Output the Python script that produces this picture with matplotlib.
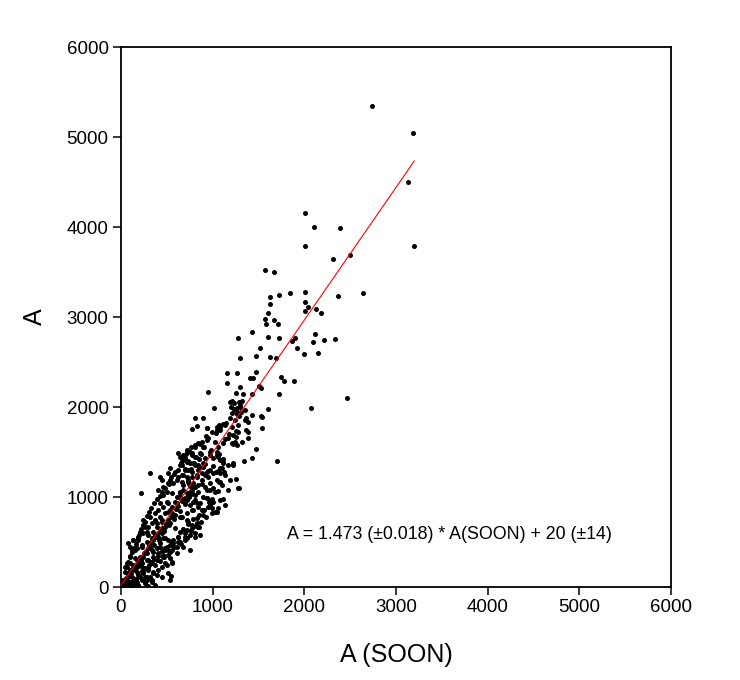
import matplotlib
matplotlib.use("Agg")
import matplotlib.pyplot as plt

plt.rcParams["font.family"] = ["Liberation Sans", "DejaVu Sans"]

# sparse upper points (A(SOON), A)
upper_pts = [
    (2735, 5341), (3189, 5048), (3134, 4503), (2011, 4152), (2105, 4000), (2389, 3993),
    (2011, 3785), (3200, 3785), (2316, 3648), (2498, 3693), (1844, 3263), (2011, 3278),
    (2007, 3170), (2036, 3115), (2004, 3067), (2124, 3089), (2185, 3041), (2371, 3237),
    (2637, 3267), (2113, 2815), (2095, 2722), (2218, 2741), (2331, 2756), (1898, 2770),
    (1862, 2737), (1917, 2656), (2000, 2589), (2145, 2600), (1887, 2285), (2462, 2103),
    (2069, 1985), (1567, 3522), (1669, 3500), (1629, 3219), (1720, 3248), (1622, 3148),
    (1607, 3041), (1571, 2978), (1585, 2926), (1669, 2967), (1716, 2919), (1433, 2833),
    (1280, 2763), (1600, 2778), (1720, 2767), (1520, 2656), (1295, 2541), (1469, 2567),
    (1625, 2552), (1694, 2541), (1265, 2381), (1476, 2389), (1404, 2326), (1443, 2322),
    (1742, 2337), (1782, 2292), (1295, 2222), (1502, 2233), (1531, 2211),
]

# middle band
mid_pts = [
    (1160, 2378), (1153, 2270), (953, 2167), (1255, 2159), (1331, 2141), (1433, 2144),
    (1727, 2144), (1211, 2067), (1236, 2041), (1291, 2052), (1324, 2070), (1200, 2004),
    (1229, 1981), (1262, 1989), (1302, 2022), (1349, 1963), (1604, 1978), (1011, 1985),
    (1269, 1926), (1313, 1948), (1291, 1896), (1360, 1874), (1382, 1830), (1527, 1896),
    (811, 1881), (898, 1881), (1185, 1874), (1069, 1804), (1116, 1815), (1145, 1822),
    (778, 1756), (825, 1785), (935, 1770), (1047, 1781), (1207, 1781), (1255, 1733),
    (1367, 1744), (1389, 1722), (927, 1678), (1033, 1707), (1080, 1744), (1175, 1696),
    (1255, 1670), (938, 1633), (1029, 1615), (1135, 1648), (1215, 1604), (1244, 1615),
    (1225, 1585), (807, 1559), (865, 1589), (905, 1552), (982, 1522), (1473, 1530),
    (705, 1478), (775, 1485), (815, 1448), (847, 1426), (869, 1478), (1073, 1481),
    (1116, 1426), (1433, 1437), (1702, 1404), (644, 1448), (662, 1404), (735, 1404),
    (793, 1374), (920, 1367), (1004, 1348), (1102, 1326), (1218, 1374), (702, 1307),
    (767, 1311), (851, 1326), (949, 1289), (1055, 1289), (673, 1248), (720, 1219),
    (778, 1226), (913, 1248), (1251, 1196), (738, 1144), (804, 1115), (884, 1141),
    (1000, 1100), (1284, 1096), (1080, 1170), (1189, 2059), (1261, 1948), (1298, 2003),
    (1207, 1929), (1243, 1855), (1280, 1800), (1134, 1800), (1080, 1781), (1043, 1744),
    (989, 1726), (934, 1763), (952, 1652), (1061, 1559), (1116, 1596), (1171, 1652),
    (1225, 1689), (1280, 1726), (1352, 1855), (1389, 1652), (1425, 1911), (1534, 1892),
    (1261, 1577), (1043, 1503), (1316, 1615), (1534, 1763), (1342, 1403), (1109, 974),
    (1062, 1070), (1007, 948), (1026, 837), (989, 874), (935, 985), (1124, 1281),
    (1080, 1411), (1036, 1281), (898, 1337), (316, 1263), (215, 1041), (545, 122),
    (851, 670), (971, 911), (1044, 837), (993, 974), (1116, 1374), (1225, 1356),
    (1280, 1104), (1080, 1263), (1065, 1170),
]

# dense lower cluster
cluster_pts = [
    (625, 1485), (680, 1466), (753, 1503), (807, 1448), (862, 1485), (916, 1429),
    (971, 1466), (716, 1392), (789, 1374), (844, 1355), (898, 1374), (644, 1355),
    (698, 1300), (771, 1281), (825, 1244), (880, 1263), (625, 1226), (662, 1170),
    (734, 1189), (789, 1152), (844, 1133), (680, 1078), (753, 1059), (807, 1022),
    (644, 1004), (716, 966), (607, 929), (1062, 1448), (1116, 1392), (1171, 1355),
    (1080, 1318), (1007, 1263), (1134, 1244), (1044, 1189), (971, 1152), (1098, 1133),
    (934, 1078), (1025, 1059), (1171, 1078), (898, 1004), (989, 966), (1080, 966),
    (862, 929), (953, 892), (1134, 911), (1062, 874), (1189, 1189),
    (498, 1059), (553, 1041), (607, 1004), (644, 1059), (589, 948), (517, 930),
    (462, 893), (407, 856), (480, 819), (535, 856), (426, 782), (371, 745),
    (335, 708), (298, 671), (389, 671), (444, 726), (717, 1004), (771, 1041),
    (807, 967), (753, 911), (844, 893), (789, 856), (717, 819), (662, 782),
    (735, 726), (826, 708), (771, 652), (698, 597), (626, 559), (571, 522),
    (644, 504), (717, 541), (535, 467), (480, 430), (607, 448), (844, 671),
    (807, 597), (862, 578),
    (807, 1578), (843, 1596), (898, 1559), (880, 1615), (971, 1503), (1007, 1429),
    (1044, 1466), (698, 1429), (771, 1466), (753, 1374), (662, 1355), (735, 1300),
    (807, 1355), (843, 1300), (898, 1337), (934, 1281), (971, 1300), (953, 1226),
    (825, 1226), (880, 1189), (534, 1318), (589, 1281), (516, 1152), (571, 1152),
    (607, 1189), (662, 1244), (680, 1133), (735, 1170), (771, 1077), (807, 1115),
    (843, 1059), (753, 1022), (644, 1040), (698, 985), (916, 1115), (971, 1077),
    (934, 985), (825, 929), (771, 855), (880, 855), (425, 1226), (444, 1189),
    (462, 1022), (498, 948), (425, 929), (553, 892), (607, 929), (516, 837),
    (589, 800), (644, 781), (716, 744), (771, 689), (825, 763), (898, 800),
    (316, 781), (371, 818), (389, 707), (444, 744), (480, 670), (534, 707),
    (589, 652), (644, 615), (716, 633), (753, 578), (698, 522), (807, 559),
    (843, 670), (244, 744), (262, 670), (207, 615), (298, 578), (353, 615),
    (407, 559), (462, 540), (516, 522), (571, 485), (625, 503), (680, 448),
    (753, 411), (553, 411), (607, 374), (425, 448), (480, 411), (516, 355),
    (462, 337), (553, 281), (498, 244), (444, 226), (389, 300), (353, 392),
    (316, 448), (135, 522), (189, 522), (98, 448), (153, 411), (225, 448),
    (262, 374), (207, 337), (280, 300), (335, 263), (171, 300), (98, 337),
    (62, 263), (135, 244), (225, 226), (298, 189), (244, 152), (171, 170),
    (98, 189), (353, 170), (389, 133), (316, 115), (207, 115), (153, 78),
    (80, 115), (25, 78), (44, 41), (62, 22), (98, 59), (25, 22), (135, 41),
    (171, 59), (189, 22), (280, 78), (335, 59), (407, 1077), (462, 1115),
    (516, 1263), (534, 1189),
    (80, 485), (135, 522), (190, 559), (244, 596), (280, 614), (117, 411),
    (171, 429), (226, 466), (280, 503), (335, 540), (371, 577), (444, 596),
    (480, 540), (426, 485), (390, 429), (335, 411), (280, 374), (226, 337),
    (153, 318), (99, 263), (44, 226), (62, 152), (117, 189), (171, 226),
    (226, 263), (299, 300), (353, 337), (408, 374), (462, 355), (517, 411),
    (535, 318), (480, 263), (371, 244), (299, 207), (244, 170), (190, 133),
    (135, 96), (80, 59), (44, 22), (10, 5), (80, 8), (153, 40), (226, 77),
    (280, 114), (353, 152), (408, 189), (444, 114), (335, 77), (262, 40),
    (190, 8), (117, 10), (299, 8), (371, 22), (517, 152), (262, 114),
    (553, 263), (535, 77), (10, 15), (20, 30), (30, 50), (15, 60), (5, 5),
]

# extra points along the fit inside the dense core
core_pts = [
    (50, 100), (60, 70), (90, 120), (110, 150), (130, 210), (150, 190), (170, 260),
    (190, 280), (200, 240), (220, 300), (240, 330), (250, 380), (270, 400), (290, 430),
    (310, 470), (330, 500), (350, 520), (360, 470), (380, 560), (400, 600), (410, 520),
    (430, 640), (450, 660), (470, 620), (490, 700), (510, 740), (520, 690), (540, 780),
    (560, 820), (580, 760), (600, 870), (620, 900), (640, 850), (660, 960), (680, 980),
    (700, 920), (720, 1050), (740, 1000), (760, 1110), (780, 950),
    (120, 60), (160, 90), (200, 130), (230, 180), (260, 210), (300, 240), (330, 280),
    (360, 310), (400, 350), (420, 290), (450, 400), (470, 330), (500, 450), (530, 390),
    (560, 500), (580, 440), (620, 560), (650, 480), (680, 640), (700, 560), (730, 700),
    (760, 620), (790, 760), (820, 680), (850, 800), (870, 720), (900, 860), (930, 780),
    (960, 940), (990, 820),
    (40, 170), (60, 220), (80, 280), (100, 350), (120, 390), (140, 430), (160, 480),
    (180, 540), (200, 580), (220, 640), (240, 690), (260, 720), (280, 790), (300, 830),
    (330, 880), (360, 930), (390, 980), (420, 1010), (450, 1060), (480, 1100),
    (520, 1140), (550, 1220), (580, 1260), (620, 1300), (650, 1380), (690, 1420),
    (720, 1520), (760, 1560),
]

fit_slope = 1.473
fit_intercept = 20
fit_x = [0, 3200]

all_pts = upper_pts + mid_pts + cluster_pts + core_pts
xs = [p[0] for p in all_pts]
ys = [p[1] for p in all_pts]

fig = plt.figure(figsize=(7.4, 6.8), dpi=100)
ax = fig.add_axes([121 / 740, 93 / 680, 550 / 740, 540 / 680])

ax.plot(xs, ys, "o", color="black", markersize=3.6, markeredgewidth=0, zorder=2)
ax.plot(fit_x, [fit_slope * v + fit_intercept for v in fit_x],
        color="red", linewidth=0.8, zorder=3)

ax.set_xlim(0, 6000)
ax.set_ylim(0, 6000)
ax.set_xticks(range(0, 6001, 1000))
ax.set_yticks(range(0, 6001, 1000))
ax.tick_params(direction="out", length=6, width=1.1, labelsize=13.5, pad=3,
               top=False, right=False)
for s in ax.spines.values():
    s.set_linewidth(1.3)

ax.set_xlabel("A (SOON)", fontsize=18, va="center")
ax.set_ylabel("A", fontsize=18, va="center", ha="center")
ax.xaxis.set_label_coords(0.5, -0.126)
ax.yaxis.set_label_coords(-0.156, 0.5)

ax.text(1810, 580, "A = 1.473 (\u00b10.018) * A(SOON) + 20 (\u00b114)",
        fontsize=12.8, ha="left", va="center")

fig.savefig("out.png", dpi=100)
